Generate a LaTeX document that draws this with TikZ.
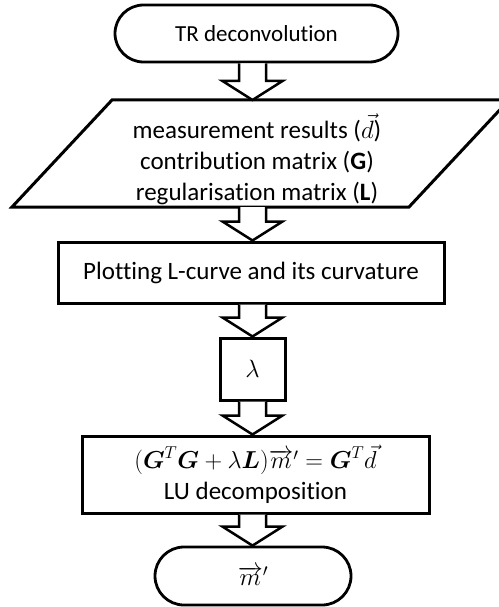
\RequirePackage{fix-cm}
\documentclass[tikz,border=0pt]{standalone}
\usepackage{amsmath,amssymb}
\usepackage{fontspec}
\setmainfont{Carlito}[Ligatures=CommonOff]
\usepackage{tikz}
\usepackage{xcolor}
\usetikzlibrary{shapes.misc,calc}

\tikzset{
  flowtext/.style={font=\fontsize{25}{31}\selectfont,align=center,inner sep=0pt},
  flowbox/.style={flowtext,draw,line width=3pt,rectangle},
  terminal/.style={flowtext,draw,line width=2.8pt,rounded rectangle},
  blockarrow/.style={line width=2.5pt,fill=white,line join=miter,to path={
    let \p1=(\tikztostart), \p2=(\tikztotarget) in
    (\x2-13.5pt,\y1) -- (\x2-13.5pt,\y2+19pt) -- (\x2-30pt,\y2+19pt) -- (\x2,\y2)
    -- (\x2+30pt,\y2+19pt) -- (\x2+13.5pt,\y2+19pt) -- (\x2+13.5pt,\y1)}}
}

\begin{document}
\begin{tikzpicture}[x=1pt,y=1pt]
\useasboundingbox (0,0) rectangle (498,-607);
\node[terminal,minimum width=283,minimum height=57,font=\fontsize{23}{31}\selectfont] (start) at (256.5,-33.5) {TR deconvolution};
\node[flowtext] (inputs) at (257,-159)
  {measurement results ($\vec{d}$)\\contribution matrix (\textbf{G})\\regularisation matrix (\textbf{L})};
\coordinate (inputs top) at ($(inputs.center)+(0,59)$);
\coordinate (inputs bottom) at ($(inputs.center)+(0,-48)$);
\draw[line width=3pt,line join=miter] ($(inputs.center)+(-145,59)$) -- ($(inputs.center)+(252,59)$)
  -- ($(inputs.center)+(152,-48)$) -- ($(inputs.center)+(-245,-48)$) -- cycle;
\node[flowbox,minimum width=386,minimum height=61] (plot) at (251,-272.5) {Plotting L-curve and its curvature};
\node[flowbox,minimum width=65,minimum height=62] (lambda) at (252.5,-369) {$\lambda$};
\node[flowbox,minimum width=347,minimum height=77] (solve) at (255.5,-474.5)
  {\fontsize{24.5}{31}\selectfont$(\boldsymbol{G}^T\boldsymbol{G}+\lambda\boldsymbol{L})\overrightarrow{m}'=\boldsymbol{G}^T\vec{d}$\\LU decomposition};
\node[terminal,minimum width=196,minimum height=58] (result) at (253,-576) {$\overrightarrow{m}'$};
\draw[blockarrow] (start.south) to (inputs top -| lambda);
\draw[blockarrow] (inputs bottom -| lambda) to (plot.north -| lambda);
\draw[blockarrow] (plot.south -| lambda) to (lambda.north);
\draw[blockarrow] (lambda.south) to (solve.north -| lambda);
\draw[blockarrow] (solve.south -| lambda) to (result.north -| lambda);
\end{tikzpicture}
\end{document}
